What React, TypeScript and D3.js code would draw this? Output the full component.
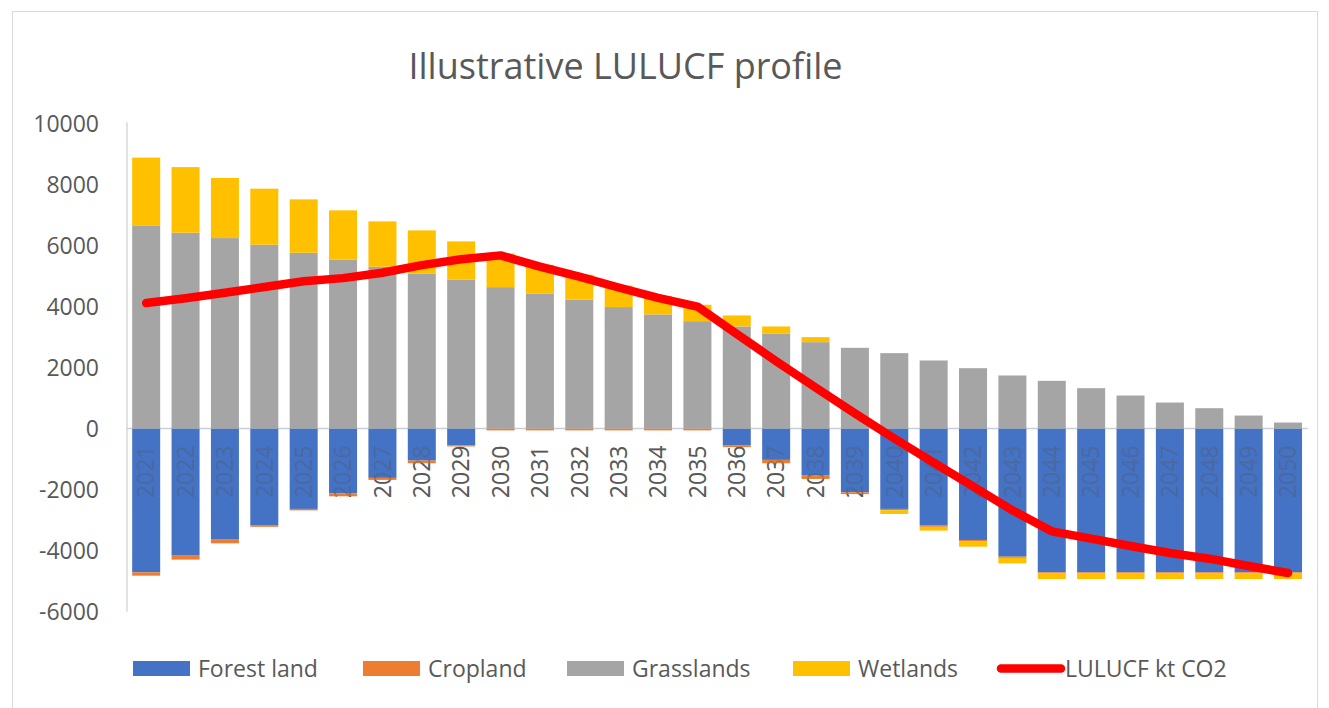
import React from "react";
import * as d3 from "d3";

const years = d3.range(2021, 2051).map(String);
const forestLand = [-4710, -4164, -3640, -3180, -2633, -2120, -1617, -1050, -557, 0, 0, 0, 0, 0, 0, -557, -1027, -1541, -2088, -2633, -3180, -3650, -4197, -4710, -4710, -4710, -4710, -4710, -4710, -4710];
const cropland = [-110, -130, -120, -40, -47, -100, -66, -87, -30, -60, -60, -60, -60, -60, -60, -50, -110, -110, -60, -40, -40, -40, -40, -40, -40, -40, -40, -40, -40, -40];
const grasslands = [6656, 6415, 6240, 6022, 5760, 5530, 5300, 5080, 4875, 4633, 4415, 4220, 3980, 3738, 3518, 3344, 3104, 2830, 2645, 2470, 2230, 1978, 1738, 1563, 1322, 1082, 852, 667, 426, 197];
const wetlands = [2220, 2150, 1970, 1836, 1748, 1618, 1487, 1412, 1256, 1100, 950, 820, 700, 600, 537, 361, 240, 164, 0, -124, -124, -180, -180, -180, -180, -180, -180, -180, -180, -180];
const lulucf = [4110, 4271, 4450, 4638, 4828, 4928, 5104, 5355, 5544, 5673, 5305, 4980, 4620, 4278, 3995, 3098, 2207, 1343, 497, -327, -1114, -1892, -2677, -3367, -3608, -3848, -4078, -4263, -4504, -4733];
const yTicks = [-6000, -4000, -2000, 0, 2000, 4000, 6000, 8000, 10000];

const seriesNames = ["Forest land", "Cropland", "Grasslands", "Wetlands"];
const seriesColors = ["#4472C4", "#ED7D31", "#A5A5A5", "#FFC000"];
const lineName = "LULUCF kt CO2";
const lineColor = "#FF0000";

const FONT = "'Open Sans', 'Liberation Sans', sans-serif";
const TEXT = "#595959";

export default function App() {
  const W = 1329, H = 708;
  const left = 126.5, right = 1307.7, top = 123.3, bottom = 611.7;

  const x = d3.scaleBand<string>().domain(years).range([left, right]).paddingInner(0.2886).paddingOuter(0.1443);
  const y = d3.scaleLinear().domain([-6000, 10000]).range([bottom, top]);

  const rows = years.map((yr, i) => ({
    year: yr,
    "Forest land": forestLand[i],
    Cropland: cropland[i],
    Grasslands: grasslands[i],
    Wetlands: wetlands[i],
  }));
  const stacked = d3.stack<any>().keys(seriesNames).offset(d3.stackOffsetDiverging)(rows);

  const line = d3.line<number>()
    .x((_, i) => (x(years[i]) as number) + x.bandwidth() / 2)
    .y((d) => y(d));

  const labels = (opacity: number, key: string) => (
    <g key={key} opacity={opacity}>
      {years.map((yr) => {
        const cx = (x(yr) as number) + x.bandwidth() / 2;
        const ly = y(0) + 17;
        return (
          <text key={yr} transform={`translate(${cx},${ly}) rotate(-90)`} textAnchor="end" dy="0.36em"
            fontFamily={FONT} fontSize={23} fill={TEXT}>{yr}</text>
        );
      })}
    </g>
  );

  const legendItems = [
    { name: seriesNames[0], color: seriesColors[0], x: 133, type: "rect" },
    { name: seriesNames[1], color: seriesColors[1], x: 363, type: "rect" },
    { name: seriesNames[2], color: seriesColors[2], x: 567, type: "rect" },
    { name: seriesNames[3], color: seriesColors[3], x: 793, type: "rect" },
    { name: lineName, color: lineColor, x: 997, type: "line" },
  ];

  return (
    <svg width={W} height={H} style={{ position: "absolute", left: 0, top: 0, background: "#fff" }}>
      <rect x={12.5} y={11.5} width={1305} height={720} fill="#fff" stroke="#D9D9D9" strokeWidth={1} />
      <text x={625.5} y={79} textAnchor="middle" fontFamily={FONT} fontSize={36} fill={TEXT}>Illustrative LULUCF profile</text>

      {yTicks.map((t) => (
        <text key={t} x={99} y={y(t)} dy="0.36em" textAnchor="end" fontFamily={FONT} fontSize={23} fill={TEXT}>{t}</text>
      ))}
      <line x1={left + 0.5} x2={left + 0.5} y1={top - 1} y2={bottom} stroke="#D9D9D9" strokeWidth={1.5} />
      <line x1={left} x2={right} y1={y(0)} y2={y(0)} stroke="#C9CFDA" strokeWidth={1.5} />

      {labels(1, "l1")}

      {stacked.map((s, si) => (
        <g key={s.key} fill={seriesColors[si]}>
          {s.map((d, i) => {
            const y0 = y(d[0]), y1 = y(d[1]);
            const h = Math.abs(y0 - y1);
            if (h < 0.01) return null;
            return <rect key={i} x={x(years[i])} width={x.bandwidth()} y={Math.min(y0, y1)} height={h} />;
          })}
        </g>
      ))}

      {labels(0.35, "l2")}

      <path d={line(lulucf) as string} fill="none" stroke={lineColor} strokeWidth={8.5} strokeLinejoin="round" strokeLinecap="round" />

      {legendItems.map((it) => (
        <g key={it.name}>
          {it.type === "rect" ? (
            <rect x={it.x} y={661} width={57} height={15} fill={it.color} />
          ) : (
            <line x1={it.x + 4} x2={it.x + 64} y1={668.5} y2={668.5} stroke={it.color} strokeWidth={8.5} strokeLinecap="round" />
          )}
          <text x={it.type === "rect" ? it.x + 65 : it.x + 68} y={668.5} dy="0.36em" fontFamily={FONT} fontSize={23} fill={TEXT}>{it.name}</text>
        </g>
      ))}
    </svg>
  );
}
